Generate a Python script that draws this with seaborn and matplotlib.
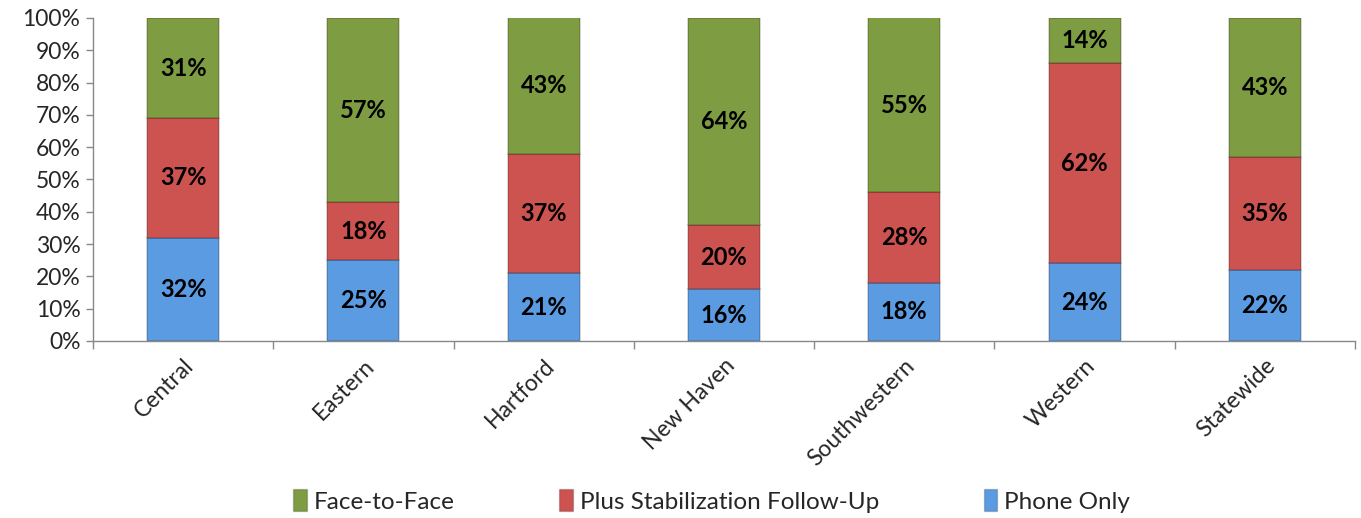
import matplotlib
matplotlib.use("Agg")
import matplotlib.pyplot as plt
import seaborn as sns
import numpy as np
import pandas as pd
from matplotlib.patches import Patch
from matplotlib.ticker import FixedLocator, PercentFormatter

categories = ["Central", "Eastern", "Hartford", "New Haven", "Southwestern", "Western", "Statewide"]
phone_only = [32, 25, 21, 16, 18, 24, 22]
plus_stabilization = [37, 18, 37, 20, 28, 62, 35]
face_to_face = [31, 57, 43, 64, 55, 14, 43]
series_names = ["Face-to-Face", "Plus Stabilization Follow-Up", "Phone Only"]

sns.set_theme(style="white")
plt.rcParams['font.family'] = ['Lato', 'DejaVu Sans']

c_green = "#7E9C42"
c_red = "#CD5351"
c_blue = "#5B9BE2"

fig = plt.figure(figsize=(13.61, 5.18), dpi=100)
ax = fig.add_axes([0.0683, 0.3417, 0.9273, 0.6236])

df = pd.DataFrame({"cat": categories, "phone": phone_only,
                   "plus": plus_stabilization, "face": face_to_face})
bottom_plus = np.array(phone_only)
bottom_face = bottom_plus + np.array(plus_stabilization)

layers = [("phone", None, c_blue), ("plus", bottom_plus, c_red), ("face", bottom_face, c_green)]
for col, bot, color in layers:
    kw = {}
    if bot is not None:
        kw["bottom"] = bot
    sns.barplot(data=df, x="cat", y=col, color=color, width=0.4, ax=ax,
                edgecolor="#00000030", linewidth=1.2, saturation=1, **kw)

# labels
for i in range(len(categories)):
    b = 0
    for vals in (phone_only, plus_stabilization, face_to_face):
        v = vals[i]
        top = min(b + v, 100)
        ax.text(i, (b + top) / 2, f"{v}%", ha="center", va="center",
                fontsize=17, fontweight="bold", color="black")
        b += v

ax.set_ylim(0, 100)
ax.set_xlim(-0.5, len(categories) - 0.5)
ax.yaxis.set_major_locator(FixedLocator(np.arange(0, 101, 10)))
ax.yaxis.set_major_formatter(PercentFormatter(decimals=0))
ax.set_xlabel("")
ax.set_ylabel("")
ax.tick_params(axis="y", labelsize=16.5, length=5, width=1, color="#888888", direction="out", left=True, pad=4)
ax.set_xticks(range(len(categories)))
ax.set_xticklabels(categories, rotation=45, ha="right", rotation_mode="anchor", fontsize=16.5)
ax.tick_params(axis="x", which="major", length=0, pad=10)
ax.xaxis.set_minor_locator(FixedLocator(np.arange(-0.5, len(categories), 1)))
ax.tick_params(axis="x", which="minor", length=6, width=1, color="#888888", bottom=True, direction="out")
for s in ["top", "right"]:
    ax.spines[s].set_visible(False)
for s in ["left", "bottom"]:
    ax.spines[s].set_color("#888888")
    ax.spines[s].set_linewidth(1)

handles = [Patch(facecolor=c_green, edgecolor="#00000030"),
           Patch(facecolor=c_red, edgecolor="#00000030"),
           Patch(facecolor=c_blue, edgecolor="#00000030")]
fig.legend(handles, series_names, loc="lower center", bbox_to_anchor=(0.523, -0.032),
           ncol=3, frameon=False, fontsize=17.5, handlelength=0.55, handleheight=1.0,
           handletextpad=0.3, columnspacing=4.3)

fig.savefig("out.png", dpi=100)
